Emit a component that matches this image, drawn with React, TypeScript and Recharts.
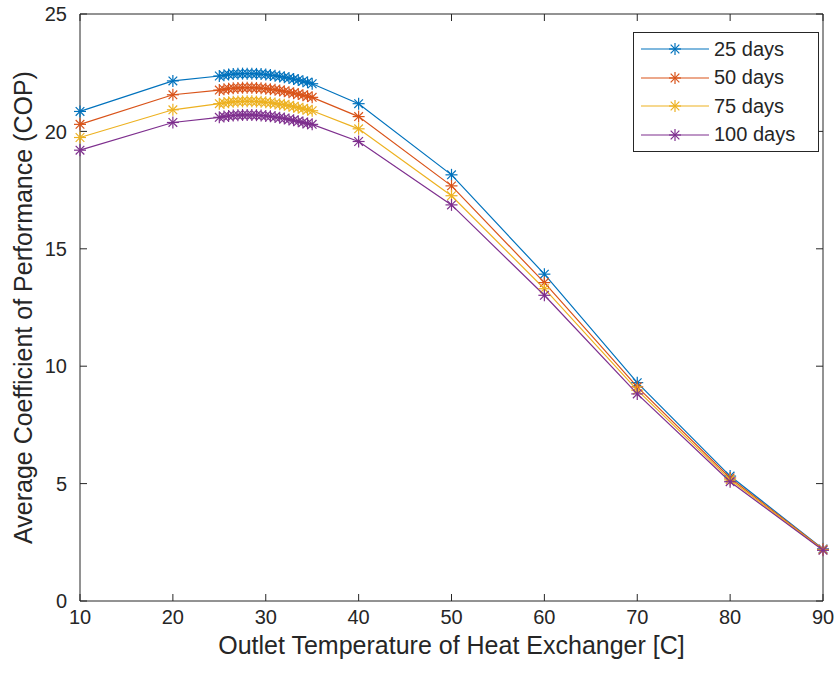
import { LineChart, Line, XAxis, YAxis } from 'recharts';

const temps = [10, 20, 25, 25.5, 26, 26.5, 27, 27.5, 28, 28.5, 29, 29.5, 30, 30.5, 31, 31.5, 32, 32.5, 33, 33.5, 34, 34.5, 35, 40, 50, 60, 70, 80, 90];

const cop25 = [20.85, 22.15, 22.36, 22.39, 22.42, 22.44, 22.45, 22.46, 22.46, 22.46, 22.45, 22.44, 22.42, 22.4, 22.37, 22.34, 22.31, 22.27, 22.23, 22.19, 22.14, 22.09, 22.03, 21.18, 18.15, 13.92, 9.3, 5.32, 2.22];
const cop50 = [20.3, 21.56, 21.76, 21.79, 21.82, 21.84, 21.85, 21.86, 21.86, 21.86, 21.85, 21.84, 21.82, 21.8, 21.77, 21.74, 21.71, 21.67, 21.63, 21.59, 21.54, 21.5, 21.45, 20.63, 17.68, 13.56, 9.12, 5.24, 2.2];
const cop75 = [19.74, 20.92, 21.18, 21.21, 21.24, 21.26, 21.27, 21.28, 21.28, 21.28, 21.27, 21.26, 21.24, 21.22, 21.19, 21.16, 21.13, 21.09, 21.05, 21.01, 20.96, 20.92, 20.88, 20.11, 17.26, 13.3, 8.98, 5.16, 2.18];
const cop100 = [19.2, 20.38, 20.6, 20.63, 20.66, 20.68, 20.69, 20.7, 20.7, 20.7, 20.69, 20.68, 20.66, 20.64, 20.61, 20.58, 20.55, 20.51, 20.47, 20.43, 20.38, 20.34, 20.3, 19.57, 16.87, 13.02, 8.82, 5.08, 2.16];

const seriesNames = ['25 days', '50 days', '75 days', '100 days'];
const seriesKeys = ['d25', 'd50', 'd75', 'd100'];
const colors = ['#0072BD', '#D95319', '#EDB120', '#7E2F8E'];
const xTicks = [10, 20, 30, 40, 50, 60, 70, 80, 90];
const yTicks = [0, 5, 10, 15, 20, 25];

const data = temps.map((t, i) => ({
  x: t,
  d25: cop25[i],
  d50: cop50[i],
  d75: cop75[i],
  d100: cop100[i],
}));

const FONT = '"Liberation Sans", Arial, Helvetica, sans-serif';
const AXIS = '#262626';

function Asterisk({ cx, cy, color, r = 6 }: { cx: number; cy: number; color: string; r?: number }) {
  const d = r * 0.72;
  return (
    <g stroke={color} strokeWidth={1.2} fill="none">
      <line x1={cx - r} y1={cy} x2={cx + r} y2={cy} />
      <line x1={cx} y1={cy - r} x2={cx} y2={cy + r} />
      <line x1={cx - d} y1={cy - d} x2={cx + d} y2={cy + d} />
      <line x1={cx - d} y1={cy + d} x2={cx + d} y2={cy - d} />
    </g>
  );
}

const starDot = (color: string) => (props: any) => {
  const { cx, cy, index } = props;
  if (cx == null || cy == null) return <g key={index} />;
  return <Asterisk key={index} cx={cx} cy={cy} color={color} />;
};

function LegendBox() {
  return (
    <div
      style={{
        position: 'absolute',
        left: 633,
        top: 32,
        border: `1px solid ${AXIS}`,
        background: '#fff',
        width: 184,
        padding: '2px 0',
        fontFamily: FONT,
        fontSize: 20,
        color: AXIS,
      }}
    >
      {seriesNames.map((name, i) => (
        <div key={name} style={{ display: 'flex', alignItems: 'center', height: 28.5 }}>
          <svg width={80} height={20} style={{ flex: 'none' }}>
            <line x1={7} y1={10} x2={75} y2={10} stroke={colors[i]} strokeWidth={1.2} />
            <Asterisk cx={41} cy={10} color={colors[i]} />
          </svg>
          <span>{name}</span>
        </div>
      ))}
    </div>
  );
}

const tickLineStyle = { stroke: AXIS, strokeWidth: 1 };

export default function App() {
  return (
    <div style={{ position: 'absolute', left: 0, top: 0, width: 835, height: 677, background: '#fff' }}>
      <LineChart
        width={835}
        height={677}
        data={data}
        margin={{ top: 13, right: 11, bottom: 0, left: 0 }}
      >
        <XAxis
          dataKey="x"
          type="number"
          domain={[10, 90]}
          ticks={xTicks}
          height={76}
          tickSize={-7}
          tickMargin={16}
          stroke={AXIS}
          tickLine={tickLineStyle}
          tick={{ fill: AXIS, fontSize: 20, fontFamily: FONT }}
          label={{
            content: (p: any) => (
              <text
                x={p.viewBox.x + p.viewBox.width / 2}
                y={p.viewBox.y + 35}
                textAnchor="middle"
                dominantBaseline="hanging"
                fill={AXIS}
                fontSize={25}
                fontFamily={FONT}
              >
                Outlet Temperature of Heat Exchanger [C]
              </text>
            ),
          }}
        />
        <XAxis
          xAxisId="top"
          dataKey="x"
          type="number"
          orientation="top"
          domain={[10, 90]}
          ticks={xTicks}
          height={1}
          tickSize={-7}
          stroke={AXIS}
          tickLine={tickLineStyle}
          tickFormatter={() => ''}
        />
        <YAxis
          type="number"
          domain={[0, 25]}
          ticks={yTicks}
          width={80}
          tickSize={-7}
          tickMargin={20}
          stroke={AXIS}
          tickLine={tickLineStyle}
          tick={{ fill: AXIS, fontSize: 20, fontFamily: FONT }}
          label={{
            content: (p: any) => {
              const x = p.viewBox.x + 23;
              const y = p.viewBox.y + p.viewBox.height / 2;
              return (
                <text
                  x={x}
                  y={y}
                  transform={`rotate(-90 ${x} ${y})`}
                  textAnchor="middle"
                  dominantBaseline="central"
                  fill={AXIS}
                  fontSize={25}
                  fontFamily={FONT}
                >
                  Average Coefficient of Performance (COP)
                </text>
              );
            },
          }}
        />
        <YAxis
          yAxisId="right"
          type="number"
          orientation="right"
          domain={[0, 25]}
          ticks={yTicks}
          width={1}
          tickSize={-7}
          stroke={AXIS}
          tickLine={tickLineStyle}
          tickFormatter={() => ''}
        />
        {/* invisible series so the mirrored box axes get drawn */}
        <Line
          xAxisId="top"
          yAxisId="right"
          dataKey="d25"
          stroke="none"
          dot={false}
          activeDot={false}
          legendType="none"
          isAnimationActive={false}
        />
        {seriesKeys.map((k, i) => (
          <Line
            key={k}
            type="linear"
            dataKey={k}
            name={seriesNames[i]}
            stroke={colors[i]}
            strokeWidth={1.2}
            dot={starDot(colors[i])}
            activeDot={false}
            isAnimationActive={false}
          />
        ))}
      </LineChart>
      <LegendBox />
    </div>
  );
}
